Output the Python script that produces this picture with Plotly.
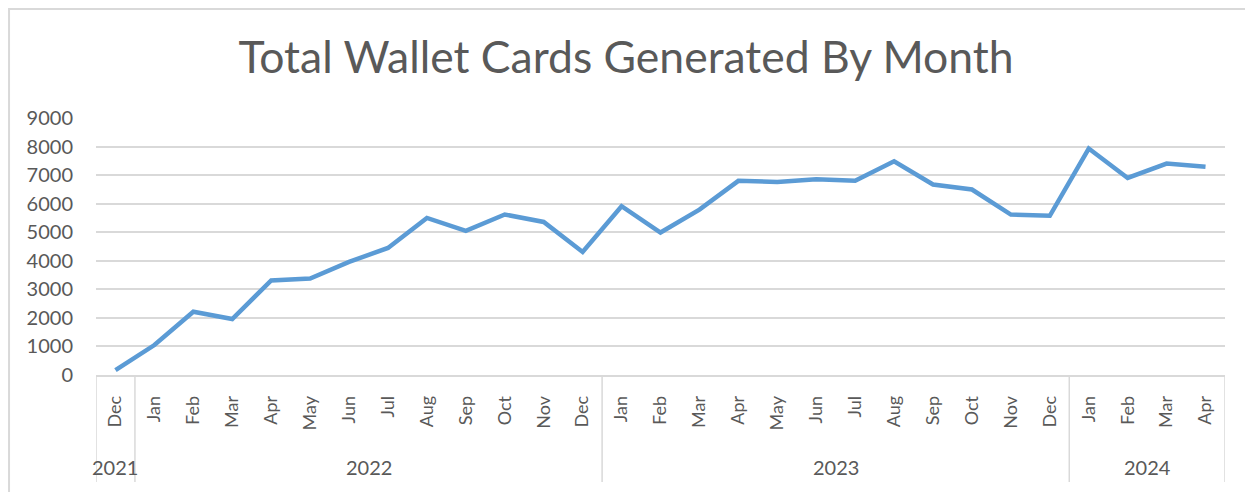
import plotly.graph_objects as go

months = ["Dec",
          "Jan", "Feb", "Mar", "Apr", "May", "Jun", "Jul", "Aug", "Sep", "Oct", "Nov", "Dec",
          "Jan", "Feb", "Mar", "Apr", "May", "Jun", "Jul", "Aug", "Sep", "Oct", "Nov", "Dec",
          "Jan", "Feb", "Mar", "Apr"]
year_labels = ["2021", "2022", "2023", "2024"]
year_counts = [1, 12, 12, 4]

cards = [170,
         1050, 2215, 1960, 3310, 3380, 3960, 4450, 5500, 5050, 5620, 5360, 4310,
         5910, 4990, 5790, 6800, 6760, 6855, 6800, 7485, 6670, 6495, 5620, 5575,
         7930, 6900, 7405, 7290]

y_ticks = [0, 1000, 2000, 3000, 4000, 5000, 6000, 7000, 8000, 9000]

years = [y for y, n in zip(year_labels, year_counts) for _ in range(n)]
keys = [f"{m} {y}" for m, y in zip(months, years)]

# page is offset by the default 8px body margin
OFF = 8
W, H = 1253 - OFF, 492 - OFF
L, T = 96 - OFF, 118 - OFF
R, B = 27.5, 117
pw, ph = W - L - R, H - T - B

font_family = "Lato, Open Sans, sans-serif"
grey = "#595959"
light = "#d9d9d9"

fig = go.Figure(go.Scatter(
    x=keys, y=cards, mode="lines",
    line=dict(color="#5b9bd5", width=4.5, shape="linear"),
    hoverinfo="x+y",
))

shapes = []
annotations = []
start = 0
bounds = [-0.5]
for lab, n in zip(year_labels, year_counts):
    center = start + (n - 1) / 2
    annotations.append(dict(
        x=center, xref="x", y=(ph - (466.5 - OFF - T)) / ph, yref="paper",
        text=lab, showarrow=False, xanchor="center", yanchor="middle",
        font=dict(family=font_family, size=20, color=grey)))
    start += n
    bounds.append(start - 0.5)

for b in bounds:
    shapes.append(dict(type="line", xref="x", yref="paper",
                       x0=b, x1=b, y0=0, y1=-(482 - OFF - T - ph) / ph,
                       line=dict(color=light, width=1.5), layer="below"))

# outer chart border (cropped on right and bottom, like the reference)
shapes.append(dict(type="rect", xref="paper", yref="paper",
                   x0=(1 - L) / pw, x1=2.0,
                   y0=-1.0, y1=(ph + T - 1) / ph,
                   line=dict(color=light, width=2), layer="below"))

fig.update_layout(
    width=W, height=H,
    margin=dict(l=L, r=R, t=T, b=B, pad=0),
    paper_bgcolor="white", plot_bgcolor="white",
    showlegend=False,
    title=dict(text="Total Wallet Cards Generated By Month",
               x=(626 - OFF) / W, xanchor="center",
               y=1 - (57 - OFF) / H, yanchor="middle",
               yref="container",
               font=dict(family=font_family, size=44.5, color=grey)),
    font=dict(family=font_family, color=grey),
    xaxis=dict(
        type="category",
        categoryorder="array", categoryarray=keys,
        range=[-0.5, len(keys) - 0.5],
        tickvals=keys, ticktext=months,
        tickangle=-90,
        tickfont=dict(size=18, color=grey),
        ticklabelstandoff=12,
        showgrid=False,
        showline=True, linecolor=light, linewidth=1.5,
        ticks="", automargin=False,
    ),
    yaxis=dict(
        range=[0, 9000],
        tickvals=y_ticks,
        ticktext=[str(v) for v in y_ticks],
        tickfont=dict(size=20, color=grey),
        showgrid=True, gridcolor=light, gridwidth=1.5,
        zeroline=False, showline=False, ticks="",
        ticklabelstandoff=22, automargin=False,
    ),
    shapes=shapes,
    annotations=annotations,
)

fig.write_html("out.html")
